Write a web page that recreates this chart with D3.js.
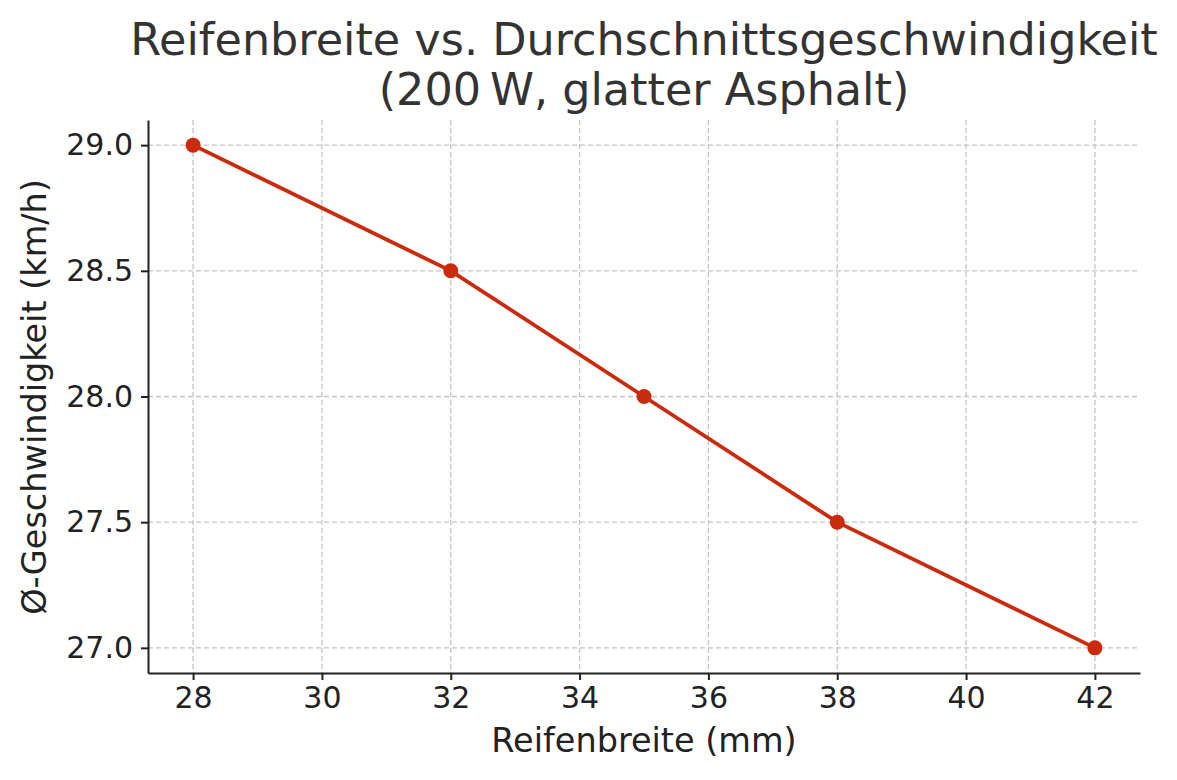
<!DOCTYPE html>
<html><head><meta charset="utf-8">
<script src="https://cdn.jsdelivr.net/npm/d3@7"></script>
<style>body{margin:0;background:#fff}</style>
</head><body><svg id="c" width="1177" height="780"></svg>
<script>
const widths = [28, 32, 35, 38, 42];
const speeds = [29.0, 28.5, 28.0, 27.5, 27.0];
const xTicks = [28, 30, 32, 34, 36, 38, 40, 42];
const yTicks = [27.0, 27.5, 28.0, 28.5, 29.0];
const svg = d3.select("#c");
const font = "DejaVu Sans, sans-serif";
const L=148,R=1140,T=120,B=673;
const x = d3.scaleLinear().domain([27.3,42.7]).range([L,R]);
const y = d3.scaleLinear().domain([26.9,29.1]).range([B,T]);
const g = svg.append("g");
g.selectAll(".gx").data(xTicks).enter().append("line").attr("x1",d=>x(d)).attr("x2",d=>x(d)).attr("y1",T).attr("y2",B).attr("stroke","#c4c4c4").attr("stroke-dasharray","5,3").attr("stroke-width",1.3);
g.selectAll(".gy").data(yTicks).enter().append("line").attr("y1",d=>y(d)).attr("y2",d=>y(d)).attr("x1",L).attr("x2",R).attr("stroke","#c4c4c4").attr("stroke-dasharray","5,3").attr("stroke-width",1.3);
const xa = svg.append("g").attr("transform",`translate(0,${B})`).call(d3.axisBottom(x).tickValues(xTicks).tickSize(7).tickPadding(7).tickSizeOuter(0));
const ya = svg.append("g").attr("transform",`translate(${L},0)`).call(d3.axisLeft(y).tickValues(yTicks).tickFormat(d3.format(".1f")).tickSize(7).tickPadding(8).tickSizeOuter(0));
[xa,ya].forEach(a=>{a.selectAll("text").attr("font-family",font).attr("font-size",30).attr("fill","#222");a.selectAll("line,path").attr("stroke","#222").attr("stroke-width",2);});
const pts = widths.map((w,i)=>[w,speeds[i]]);
svg.append("path").datum(pts).attr("d",d3.line().x(d=>x(d[0])).y(d=>y(d[1]))).attr("fill","none").attr("stroke","#cc2a0c").attr("stroke-width",3.8);
svg.selectAll(".pt").data(pts).enter().append("circle").attr("cx",d=>x(d[0])).attr("cy",d=>y(d[1])).attr("r",7.5).attr("fill","#cc2a0c");
svg.append("text").attr("x",644).attr("y",55).attr("text-anchor","middle").attr("font-family",font).attr("font-size",44.5).attr("fill","#333").text("Reifenbreite vs. Durchschnittsgeschwindigkeit");
svg.append("text").attr("x",644).attr("y",105).attr("text-anchor","middle").attr("font-family",font).attr("font-size",44.5).attr("fill","#333").text("(200\u2009W, glatter Asphalt)");
svg.append("text").attr("x",644).attr("y",752).attr("text-anchor","middle").attr("font-family",font).attr("font-size",33.5).attr("fill","#222").text("Reifenbreite (mm)");
svg.append("text").attr("transform","translate(46,397) rotate(-90)").attr("text-anchor","middle").attr("font-family",font).attr("font-size",33.5).attr("fill","#222").text("Ø-Geschwindigkeit (km/h)");
</script></body></html>
